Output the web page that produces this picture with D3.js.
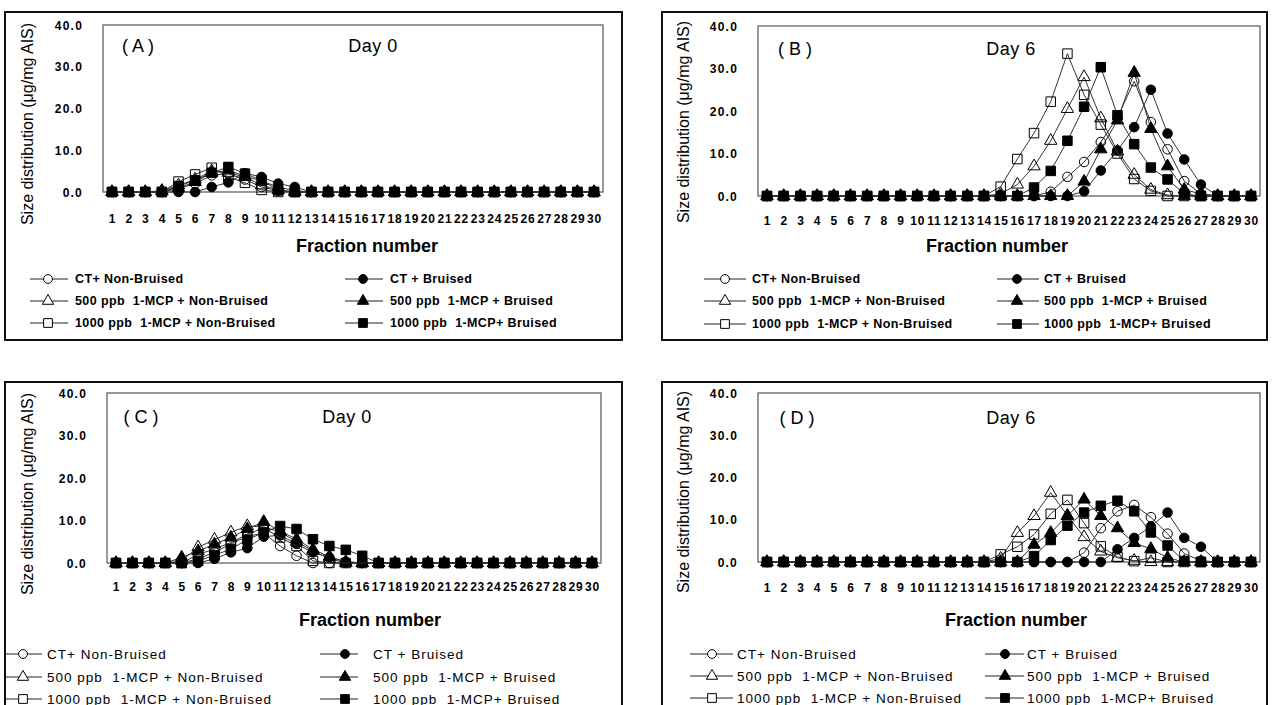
<!DOCTYPE html>
<head>
  <title>Size distribution by fraction number</title>
  <style>
    body { margin: 0; background: #fff; }
    svg { display: block; font-family: "Liberation Sans", Arial, sans-serif; }
    text { white-space: pre; }
  </style>
</head>
<body>
<script src="https://cdn.jsdelivr.net/npm/d3@7/dist/d3.min.js"></script>
<script>
// fractions and y ticks
var fractions = [1,2,3,4,5,6,7,8,9,10,11,12,13,14,15,16,17,18,19,20,21,22,23,24,25,26,27,28,29,30];
var yTicks = [0, 10, 20, 30, 40];
var seriesNames = ["CT+ Non-Bruised", "CT + Bruised",
  "500 ppb  1-MCP + Non-Bruised", "500 ppb  1-MCP + Bruised",
  "1000 ppb  1-MCP + Non-Bruised", "1000 ppb  1-MCP+ Bruised"];
var panelLetters = ["( A )", "( B )", "( C )", "( D )"];
var panelDays = ["Day 0", "Day 6", "Day 0", "Day 6"];

// (A) day 0
var A_ctNB = [0,0,0,0,0.8,2.0,4.0,4.4,3.0,1.2, 0.3,0,0,0,0,0,0,0,0,0, 0,0,0,0,0,0,0,0,0,0];
var A_ctB  = [0,0,0,0,0,0,1.2,2.3,4.5,3.6, 2.0,1.2,0,0,0,0,0,0,0,0, 0,0,0,0,0,0,0,0,0,0];
var A_tNB  = [0,0,0,0.3,1.6,3.0,5.0,4.6,3.6,1.6, 0.5,0,0,0,0,0,0,0,0,0, 0,0,0,0,0,0,0,0,0,0];
var A_tB   = [0,0,0,0.2,1.0,2.4,4.6,5.2,3.8,2.6, 1.2,0.3,0,0,0,0,0,0,0,0, 0,0,0,0,0,0,0,0,0,0];
var A_sNB  = [0,0,0,0,2.5,4.2,5.8,3.6,2.2,0.5, 0,0,0,0,0,0,0,0,0,0, 0,0,0,0,0,0,0,0,0,0];
var A_sB   = [0,0,0,0,1.4,2.8,4.6,6.0,4.4,2.8, 0.4,0,0,0,0,0,0,0,0,0, 0,0,0,0,0,0,0,0,0,0];

// (B) day 6
var B_ctNB = [0,0,0,0,0,0,0,0,0,0, 0,0,0,0,0,0,0,1.0,4.5,8.0, 12.7,18.5,27.0,17.4,11.0,3.5,0.5,0,0,0];
var B_ctB  = [0,0,0,0,0,0,0,0,0,0, 0,0,0,0,0,0,0,0,0,1.1, 6.0,10.7,16.2,25.0,14.7,8.6,2.7,0,0,0];
var B_tNB  = [0,0,0,0,0,0,0,0,0,0, 0,0,0,0,0.5,2.7,7.0,13.0,20.5,28.0, 18.3,10.5,5.0,1.5,0.2,0,0,0,0,0];
var B_tB   = [0,0,0,0,0,0,0,0,0,0, 0,0,0,0,0,0,0,0,0,3.4, 11.0,17.8,29.0,15.8,7.0,1.5,0.5,0,0,0];
var B_sNB  = [0,0,0,0,0,0,0,0,0,0, 0,0,0,0,2.2,8.7,14.8,22.2,33.5,23.8, 16.8,10.0,4.0,1.2,0,0,0,0,0,0];
var B_sB   = [0,0,0,0,0,0,0,0,0,0, 0,0,0,0,0,0,2.0,5.9,13.0,21.0, 30.3,19.0,12.2,6.7,3.9,0.5,0,0,0,0];

// (C) day 0
var C_ctNB = [0,0,0,0,0,1.0,2.5,4.5,6.3,7.0, 4.0,1.7,0,0,0,0,0,0,0,0, 0,0,0,0,0,0,0,0,0,0];
var C_ctB  = [0,0,0,0,0,0,1.0,2.5,3.5,6.2, 6.5,4.5,2.5,1.3,0.3,0,0,0,0,0, 0,0,0,0,0,0,0,0,0,0];
var C_tNB  = [0,0,0,0,0.5,3.7,5.5,7.2,8.7,8.5, 7.3,5.0,2.9,1.0,0,0,0,0,0,0, 0,0,0,0,0,0,0,0,0,0];
var C_tB   = [0,0,0,0,1.3,2.8,4.4,6.0,8.0,9.7, 7.5,5.6,3.2,1.5,0.3,0,0,0,0,0, 0,0,0,0,0,0,0,0,0,0];
var C_sNB  = [0,0,0,0,0,2.0,3.3,4.8,6.8,8.2, 6.0,4.0,0.5,0,0,0,0,0,0,0, 0,0,0,0,0,0,0,0,0,0];
var C_sB   = [0,0,0,0,0,0.5,1.8,3.3,5.5,7.2, 8.7,8.0,5.6,4.0,3.1,1.7,0,0,0,0, 0,0,0,0,0,0,0,0,0,0];

// (D) day 6
var D_ctNB = [0,0,0,0,0,0,0,0,0,0, 0,0,0,0,0,0,0,0,0,2.2, 8.0,12.0,13.5,10.6,6.7,2.0,0.3,0,0,0];
var D_ctB  = [0,0,0,0,0,0,0,0,0,0, 0,0,0,0,0,0,0,0,0,0, 0,3.0,5.7,8.4,11.7,5.7,3.6,0,0,0];
var D_tNB  = [0,0,0,0,0,0,0,0,0,0, 0,0,0,0,0.8,6.9,10.9,16.4,11.0,5.9, 2.5,1.0,0.3,0,0,0,0,0,0,0];
var D_tB   = [0,0,0,0,0,0,0,0,0,0, 0,0,0,0,0,0,4.1,6.9,10.9,14.8, 10.9,8.0,4.5,3.1,1.0,0,0,0,0,0];
var D_sNB  = [0,0,0,0,0,0,0,0,0,0, 0,0,0,0,1.8,3.6,6.5,11.4,14.7,9.2, 3.7,1.2,0.2,1.0,0,0,0,0,0,0];
var D_sB   = [0,0,0,0,0,0,0,0,0,0, 0,0,0,0,0,0,1.4,5.2,8.6,11.7, 13.3,14.5,12.0,7.0,3.9,0.2,0,0,0,0];

var panelSeries = [
  [A_ctNB, A_ctB, A_tNB, A_tB, A_sNB, A_sB],
  [B_ctNB, B_ctB, B_tNB, B_tB, B_sNB, B_sB],
  [C_ctNB, C_ctB, C_tNB, C_tB, C_sNB, C_sB],
  [D_ctNB, D_ctB, D_tNB, D_tB, D_sNB, D_sB]
];

// marker look for each series: shape, filled?
var shapes = [d3.symbolCircle, d3.symbolCircle, d3.symbolTriangle, d3.symbolTriangle, d3.symbolSquare, d3.symbolSquare];
var shapeSize = [72, 72, 66, 66, 90, 90];
var filled = [false, true, false, true, false, true];

// panel placement
var layout = [
  {box: [5, 12, 617, 328], l: 103, t: 25, r: 603, b: 192, ylabX: 27, ylabY: 124, tickY: 220, titleX: 367, titleY: 246,
   legY: [279, 301, 323], cols: [[30, 68, 48, 75], [345, 383, 363, 390]], letterX: 138, dayX: 373, headY: 46, top: true},
  {box: [662, 12, 605, 328], l: 758, t: 26, r: 1260, b: 196, ylabX: 683, ylabY: 122, tickY: 222, titleX: 997, titleY: 246,
   legY: [279, 301, 324], cols: [[704, 746, 725, 752], [997, 1039, 1017, 1044]], letterX: 795, dayX: 1011, headY: 49, top: true},
  {box: [5, 382, 617, 330], l: 107, t: 393, r: 601, b: 563, ylabX: 27, ylabY: 494, tickY: 588, titleX: 370, titleY: 620,
   legY: [654, 677, 699], cols: [[6, 42, 23, 47], [320, 358, 345, 373]], letterX: 141, dayX: 347, headY: 417, top: false},
  {box: [662, 382, 605, 330], l: 758, t: 393, r: 1260, b: 562, ylabX: 683, ylabY: 492, tickY: 589, titleX: 1016, titleY: 620,
   legY: [654, 676, 698], cols: [[690, 733, 712, 737], [985, 1024, 1005, 1027]], letterX: 797, dayX: 1011, headY: 418, top: false}
];

var svg = d3.select("body").append("svg")
    .attr("width", 1272)
    .attr("height", 705);

layout.forEach(function (p, k) {
  var g = svg.append("g");
  var x = d3.scaleLinear().domain([1, 30]).range([p.l + 9, p.r - 9]);
  var y = d3.scaleLinear().domain([0, 40]).range([p.b, p.t]);

  // outer frame and plot frame
  g.append("rect")
      .attr("x", p.box[0]).attr("y", p.box[1])
      .attr("width", p.box[2]).attr("height", p.box[3])
      .attr("fill", "none").attr("stroke", "#111").attr("stroke-width", 2);
  g.append("rect")
      .attr("x", p.l).attr("y", p.t)
      .attr("width", p.r - p.l).attr("height", p.b - p.t)
      .attr("fill", "none").attr("stroke", "#555").attr("stroke-width", 1.2);

  // y tick labels
  var ya = g.append("g").attr("transform", "translate(" + (p.l - 20) + ",0)")
      .call(d3.axisLeft(y).tickValues(yTicks).tickSize(0).tickPadding(0).tickFormat(d3.format(".1f")));
  ya.select(".domain").remove();
  ya.attr("font-family", null).attr("font-size", 12).attr("font-weight", "bold");
  ya.selectAll("text").attr("dy", "0.35em").style("letter-spacing", "1.2px");

  // x tick labels
  var xa = g.append("g").attr("transform", "translate(0," + (p.tickY - 6) + ")")
      .call(d3.axisBottom(x).tickValues(fractions).tickSize(0).tickPadding(0).tickFormat(d3.format("d")));
  xa.select(".domain").remove();
  xa.attr("font-family", null).attr("font-size", 12).attr("font-weight", "bold");
  xa.selectAll("text").style("letter-spacing", "0.8px");

  // axis titles
  g.append("text")
      .attr("transform", "translate(" + p.ylabX + "," + p.ylabY + ") rotate(-90)")
      .attr("text-anchor", "middle")
      .attr("dominant-baseline", "central")
      .style("font-size", "16px")
      .text("Size distribution (\u03bcg/mg AIS)");
  g.append("text")
      .attr("x", p.titleX).attr("y", p.titleY)
      .attr("text-anchor", "middle")
      .attr("dominant-baseline", "central")
      .style("font-size", "18px").style("font-weight", "bold")
      .text("Fraction number");

  // panel letter and day
  g.append("text")
      .attr("x", p.letterX).attr("y", p.headY)
      .attr("text-anchor", "middle").attr("dominant-baseline", "central")
      .style("font-size", "18px")
      .text(panelLetters[k]);
  g.append("text")
      .attr("x", p.dayX).attr("y", p.headY)
      .attr("text-anchor", "middle").attr("dominant-baseline", "central")
      .style("font-size", "18px").style("letter-spacing", "0.5px")
      .text(panelDays[k]);

  // series lines then markers
  var line = d3.line()
      .x(function (d, i) { return x(fractions[i]); })
      .y(function (d) { return y(d); });

  panelSeries[k].forEach(function (vals, s) {
    g.append("path")
        .attr("d", line(vals))
        .attr("fill", "none")
        .attr("stroke", "#333")
        .attr("stroke-width", 1);
    g.selectAll(null).data(vals).enter().append("path")
        .attr("transform", function (d, i) { return "translate(" + x(fractions[i]) + "," + y(d) + ")"; })
        .attr("d", d3.symbol().type(shapes[s]).size(shapeSize[s]))
        .attr("fill", filled[s] ? "#000" : "none")
        .attr("stroke", "#000")
        .attr("stroke-width", 1);
  });

  // legend
  seriesNames.forEach(function (name, s) {
    var c = p.cols[s % 2], ly = p.legY[Math.floor(s / 2)];
    g.append("line")
        .attr("x1", c[0]).attr("x2", c[1]).attr("y1", ly).attr("y2", ly)
        .attr("stroke", "#222").attr("stroke-width", 1);
    g.append("path")
        .attr("transform", "translate(" + c[2] + "," + ly + ")")
        .attr("d", d3.symbol().type(shapes[s]).size(shapeSize[s] * 0.85))
        .attr("fill", filled[s] ? "#000" : "#fff")
        .attr("stroke", "#000");
    g.append("text")
        .attr("x", c[3]).attr("y", ly)
        .attr("dominant-baseline", "central")
        .style("font-size", p.top ? "12.5px" : "13.5px")
        .style("font-weight", p.top ? "bold" : "normal")
        .style("letter-spacing", p.top ? "0.4px" : "1px")
        .text(name);
  });
});
</script>
</body>
